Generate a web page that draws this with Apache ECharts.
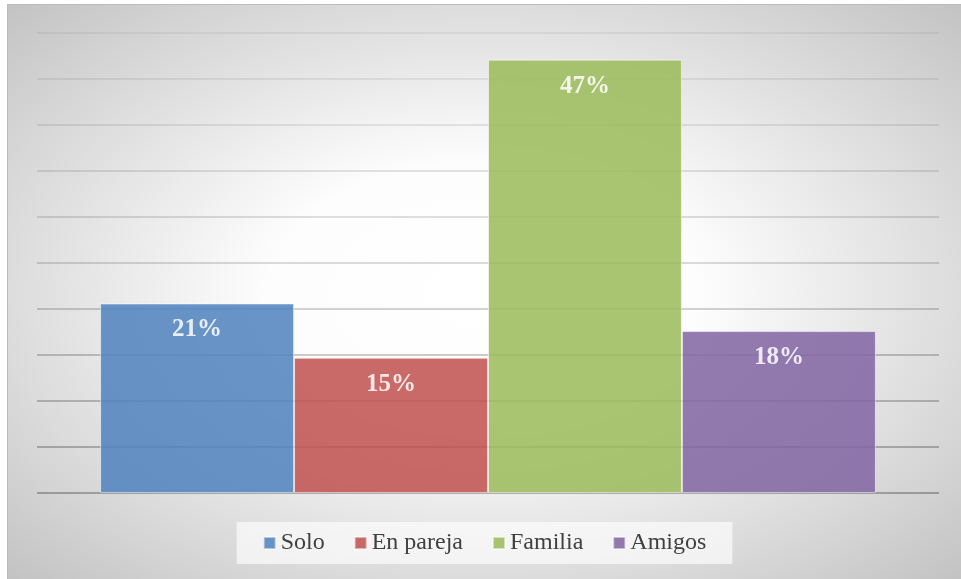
<!DOCTYPE html>
<html>
<head>
<meta charset="utf-8">
<script src="https://cdn.jsdelivr.net/npm/echarts@6/dist/echarts.min.js"></script>
<style>
  html, body { margin: 0; padding: 0; background: #ffffff; width: 961px; height: 579px; overflow: hidden; }
  #wrap { position: absolute; left: 7px; top: 4px; width: 954px; height: 575px;
          border-left: 1px solid #bcbcbc; border-top: 1px solid #bcbcbc; box-sizing: border-box;
          background: radial-gradient(ellipse farthest-corner at 50% 50%, #ffffff 0%, #fdfdfd 32%, #c3c3c3 100%); }
  #c { width: 953px; height: 574px; }
</style>
</head>
<body>
<div id="wrap"><div id="c"></div></div>
<script>
const categories = [''];
const seriesNames = ['Solo', 'En pareja', 'Familia', 'Amigos'];
const seriesValues = [20.6, 14.7, 47.1, 17.6];
const seriesColors = ['#4F81BD', '#C0504D', '#9BBB59', '#8064A2'];
const axisMin = 0, axisMax = 50, axisInterval = 5;
const gridTicks = [0, 5, 10, 15, 20, 25, 30, 35, 40, 45, 50];
const gridAlphas = [0.36, 0.33, 0.30, 0.27, 0.23, 0.19, 0.17, 0.14, 0.11, 0.09, 0.07];

const chart = echarts.init(document.getElementById('c'), null, { renderer: 'canvas' });
const serif = '"Liberation Serif", "Times New Roman", serif';

const series = seriesNames.map((name, i) => ({
  name: name,
  type: 'bar',
  z: 2,
  data: [seriesValues[i]],
  barGap: '0%',
  barCategoryGap: '14%',
  itemStyle: {
    color: seriesColors[i],
    opacity: 0.85,
    borderColor: 'rgba(255,255,255,0.6)',
    borderWidth: 1
  },
  label: {
    show: true,
    position: 'insideTop',
    distance: 14,
    color: '#ffffff',
    fontFamily: serif,
    fontWeight: 'bold',
    fontSize: 25,
    formatter: p => Math.round(p.value) + '%'
  },
  emphasis: { disabled: true }
}));

// gridlines drawn through the value axis scale
series.push({
  name: 'grid',
  type: 'line',
  data: [],
  z: 1,
  silent: true,
  markLine: {
    z: 1,
    silent: true,
    symbol: ['none', 'none'],
    label: { show: false },
    emphasis: { disabled: true },
    data: gridTicks.map((v, i) => ({
      yAxis: v,
      lineStyle: { color: 'rgba(0,0,0,' + gridAlphas[i] + ')', width: 1.5, type: 'solid' }
    }))
  }
});

chart.setOption({
  animation: false,
  backgroundColor: 'transparent',
  color: seriesColors,
  grid: { left: 29, right: 22, top: 28, bottom: 86, containLabel: false },
  legend: {
    data: seriesNames,
    bottom: 15,
    left: 'center',
    itemWidth: 12,
    itemHeight: 12,
    itemGap: 29,
    icon: 'rect',
    padding: [9, 26],
    backgroundColor: 'rgba(252,252,252,0.7)',
    textStyle: { fontFamily: serif, fontSize: 24, color: '#404040' },
    selectedMode: false
  },
  xAxis: {
    type: 'category',
    data: categories,
    axisLine: { show: false },
    axisTick: { show: false },
    axisLabel: { show: false }
  },
  yAxis: {
    type: 'value',
    min: axisMin,
    max: axisMax,
    interval: axisInterval,
    axisLine: { show: false },
    axisTick: { show: false },
    axisLabel: { show: false },
    splitLine: { show: false }
  },
  series: series
});
</script>
</body>
</html>
